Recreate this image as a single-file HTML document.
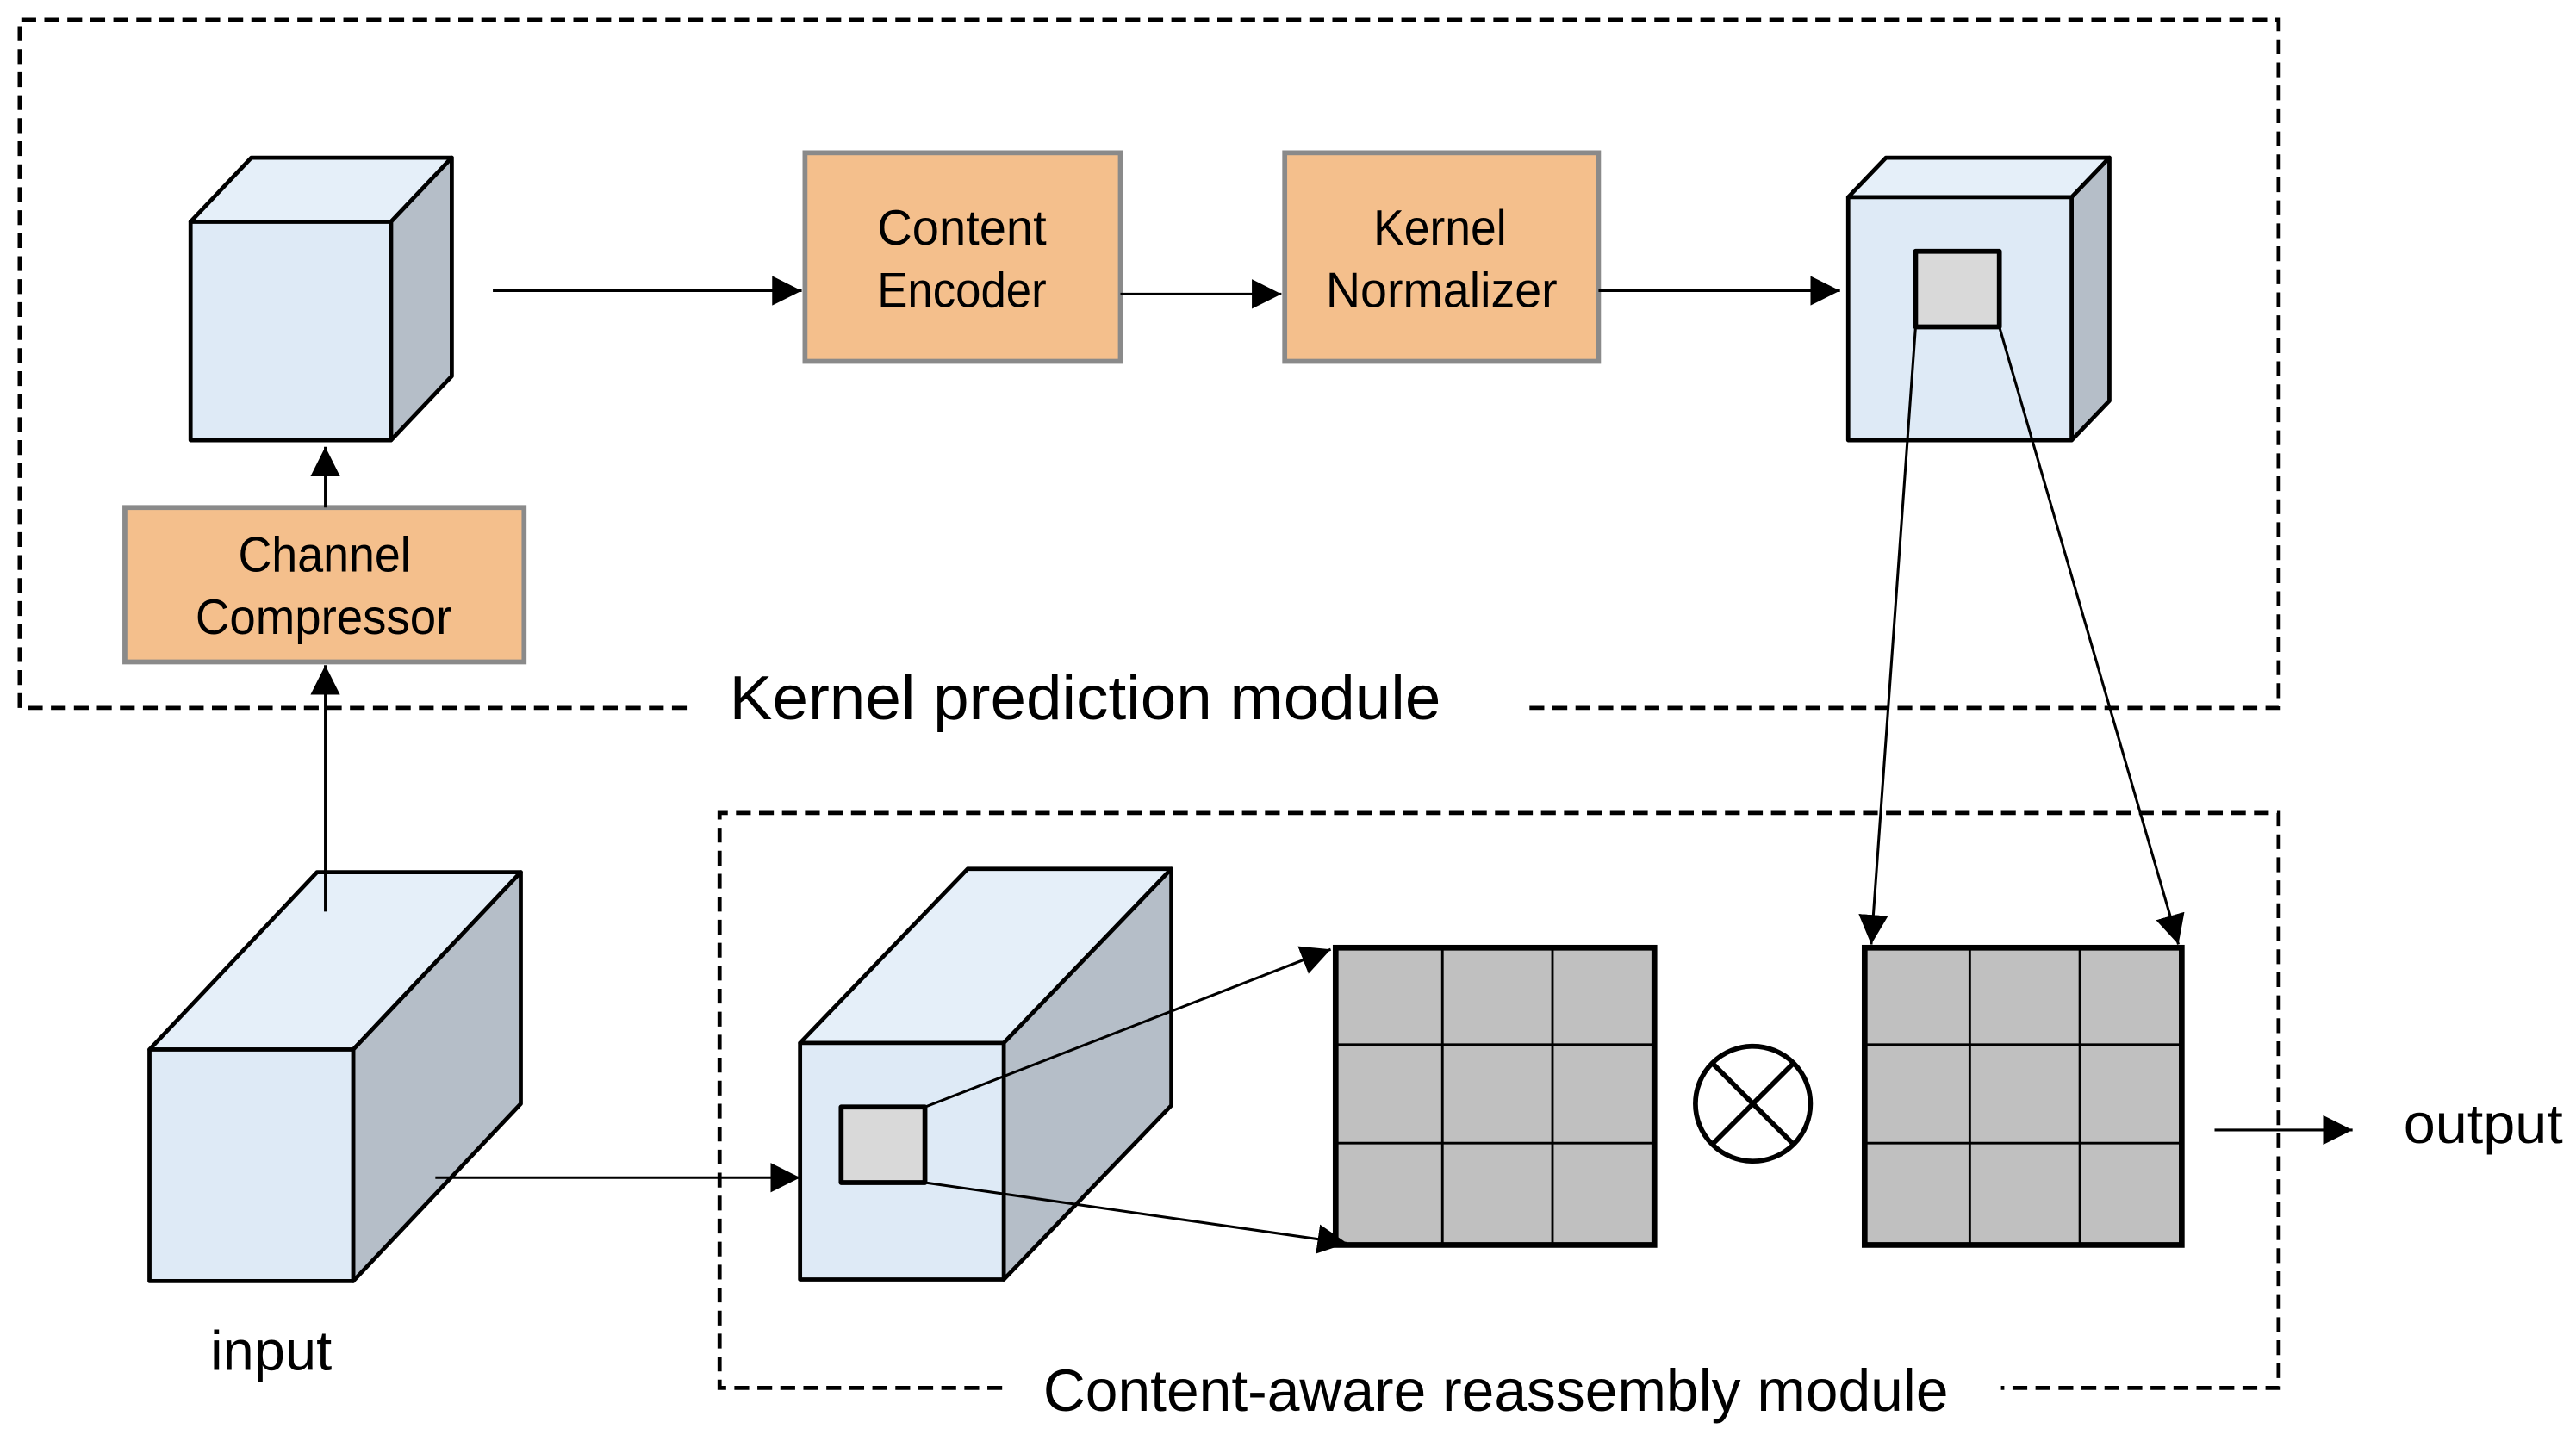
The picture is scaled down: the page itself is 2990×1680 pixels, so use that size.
<!DOCTYPE html>
<html><head><style>html,body{margin:0;padding:0;background:#fff}svg{display:block}</style></head>
<body>
<svg width="2990" height="1680" viewBox="0 0 1568 881" xmlns="http://www.w3.org/2000/svg" font-family="'Liberation Sans','DejaVu Sans',sans-serif">
<defs>
<marker id="b" viewBox="0 0 10 10" refX="10" refY="5" markerWidth="18" markerHeight="18" markerUnits="userSpaceOnUse" orient="auto"><path d="M0,0L10,5L0,10z" fill="#000"/></marker>
</defs>
<g fill="none" stroke="#000" stroke-width="2.5" stroke-dasharray="9,5">
<path d="M418,431H12V12H1387V431H930"/>
<path d="M610,845H438V495H1387V845H1218"/>
</g>
<g fill="#000" lengthAdjust="spacingAndGlyphs">
<text x="444" y="438" font-size="38" textLength="433" lengthAdjust="spacingAndGlyphs">Kernel prediction module</text>
<text x="635" y="859" font-size="36" textLength="551" lengthAdjust="spacingAndGlyphs">Content-aware reassembly module</text>
<text x="128" y="834" font-size="34" textLength="74" lengthAdjust="spacingAndGlyphs">input</text>
<text x="1463" y="696" font-size="34" textLength="97" lengthAdjust="spacingAndGlyphs">output</text>
</g>
<g stroke="#000" stroke-width="2.5" stroke-linejoin="round">
<path d="M116,135L153,96H275L238,135Z" fill="#e5eff9"/>
<path d="M238,135L275,96V229L238,268Z" fill="#b5bec8"/>
<rect x="116" y="135" width="122" height="133" fill="#deeaf6"/>
<path d="M1125,120L1148,96H1284L1261,120Z" fill="#e5eff9"/>
<path d="M1261,120L1284,96V244L1261,268Z" fill="#b5bec8"/>
<rect x="1125" y="120" width="136" height="148" fill="#deeaf6"/>
<rect x="1166" y="153" width="51" height="46" fill="#d9d9d9" stroke-width="3"/>
<path d="M91,639L193,531H317L215,639Z" fill="#e5eff9"/>
<path d="M215,639L317,531V672L215,780Z" fill="#b5bec8"/>
<rect x="91" y="639" width="124" height="141" fill="#deeaf6"/>
<path d="M487,635L589,529H713L611,635Z" fill="#e5eff9"/>
<path d="M611,635L713,529V673L611,779Z" fill="#b5bec8"/>
<rect x="487" y="635" width="124" height="144" fill="#deeaf6"/>
<rect x="512" y="674" width="51" height="46" fill="#d9d9d9" stroke-width="3"/>
</g>
<g fill="#f4bf8c" stroke="#8a8a8a" stroke-width="3">
<rect x="76" y="309" width="243" height="94"/>
<rect x="490" y="93" width="192" height="127"/>
<rect x="782" y="93" width="191" height="127"/>
</g>
<g font-size="30" fill="#000">
<text x="145" y="348" textLength="105" lengthAdjust="spacingAndGlyphs">Channel</text>
<text x="119" y="386" textLength="156" lengthAdjust="spacingAndGlyphs">Compressor</text>
<text x="534" y="149" textLength="103" lengthAdjust="spacingAndGlyphs">Content</text>
<text x="534" y="187" textLength="103" lengthAdjust="spacingAndGlyphs">Encoder</text>
<text x="836" y="149" textLength="81" lengthAdjust="spacingAndGlyphs">Kernel</text>
<text x="807" y="187" textLength="141" lengthAdjust="spacingAndGlyphs">Normalizer</text>
</g>
<g stroke="#000">
<rect x="813" y="577" width="194" height="181" fill="#c0c0c0" stroke-width="3.5"/>
<path d="M878,577V758M945,577V758M813,636H1007M813,696H1007" stroke-width="1.5"/>
<rect x="1135" y="577" width="193" height="181" fill="#c0c0c0" stroke-width="3.5"/>
<path d="M1199,577V758M1266,577V758M1135,636H1328M1135,696H1328" stroke-width="1.5"/>
<circle cx="1067" cy="672" r="35" fill="none" stroke-width="3"/>
<path d="M1042,647L1092,697M1092,647L1042,697" stroke-width="3"/>
</g>
<g stroke="#000" stroke-width="1.6" fill="none">
<path d="M300,177H488" marker-end="url(#b)"/>
<path d="M682,179H780" marker-end="url(#b)"/>
<path d="M973,177H1120" marker-end="url(#b)"/>
<path d="M198,309V272" marker-end="url(#b)"/>
<path d="M198,555V405" marker-end="url(#b)"/>
<path d="M265,717H487" marker-end="url(#b)"/>
<path d="M563,674L810,578" marker-end="url(#b)"/>
<path d="M563,720L820,757" marker-end="url(#b)"/>
<path d="M1166,199L1139,575" marker-end="url(#b)"/>
<path d="M1217,199L1326,575" marker-end="url(#b)"/>
<path d="M1348,688H1432" marker-end="url(#b)"/>
</g>
</svg>
</body></html>
